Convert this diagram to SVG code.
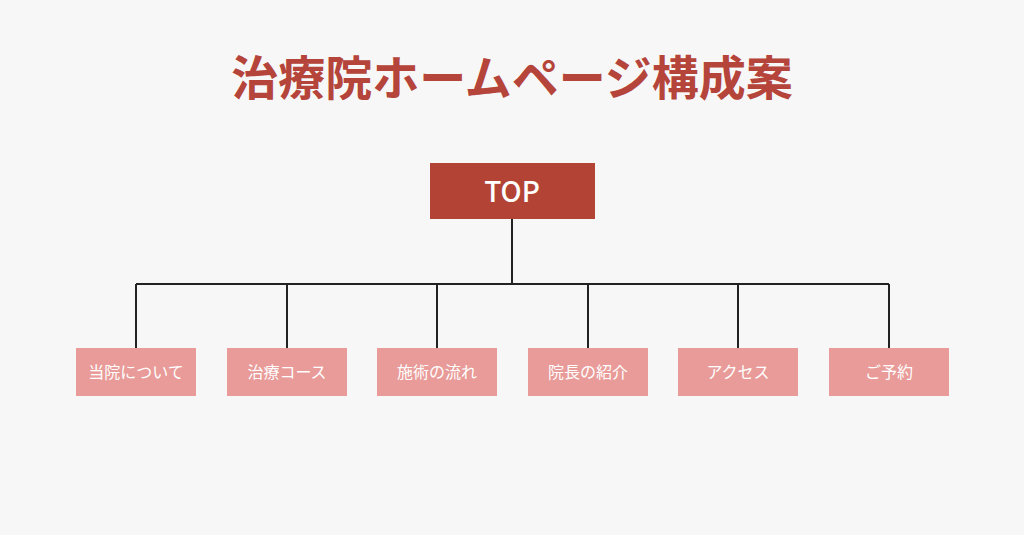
<svg xmlns="http://www.w3.org/2000/svg" width="1024" height="535" viewBox="0 0 1024 535">
<style>
.t{font-family:"Noto Sans CJK JP","Noto Sans",sans-serif;fill:#fff;text-anchor:middle}
.c{fill:#e89b98}
.l{stroke:#222;stroke-width:2;fill:none}
</style>
<rect width="1024" height="535" fill="#f7f7f7"/>
<text x="512" y="95" font-family="Noto Sans CJK JP,sans-serif" font-weight="bold" font-size="47" fill="#b5443a" text-anchor="middle">治療院ホームページ構成案</text>
<g id="connectors">
<path class="l" d="M512 219V284M136 284H889M136 284V348M287 284V348M437 284V348M588 284V348M738 284V348M889 284V348"/>
</g>
<g id="top"><rect x="430" y="163" width="165" height="56" fill="#b34435"/><text class="t" x="512" y="202" font-size="28" font-weight="500">TOP</text></g>
<g id="n1"><rect class="c" x="76" y="348" width="120" height="48"/><text class="t" x="136" y="378" font-size="16">当院について</text></g>
<g id="n2"><rect class="c" x="227" y="348" width="120" height="48"/><text class="t" x="287" y="378" font-size="16">治療コース</text></g>
<g id="n3"><rect class="c" x="377" y="348" width="120" height="48"/><text class="t" x="437" y="378" font-size="16">施術の流れ</text></g>
<g id="n4"><rect class="c" x="528" y="348" width="120" height="48"/><text class="t" x="588" y="378" font-size="16">院長の紹介</text></g>
<g id="n5"><rect class="c" x="678" y="348" width="120" height="48"/><text class="t" x="738" y="378" font-size="16">アクセス</text></g>
<g id="n6"><rect class="c" x="829" y="348" width="120" height="48"/><text class="t" x="889" y="378" font-size="16">ご予約</text></g>
</svg>
